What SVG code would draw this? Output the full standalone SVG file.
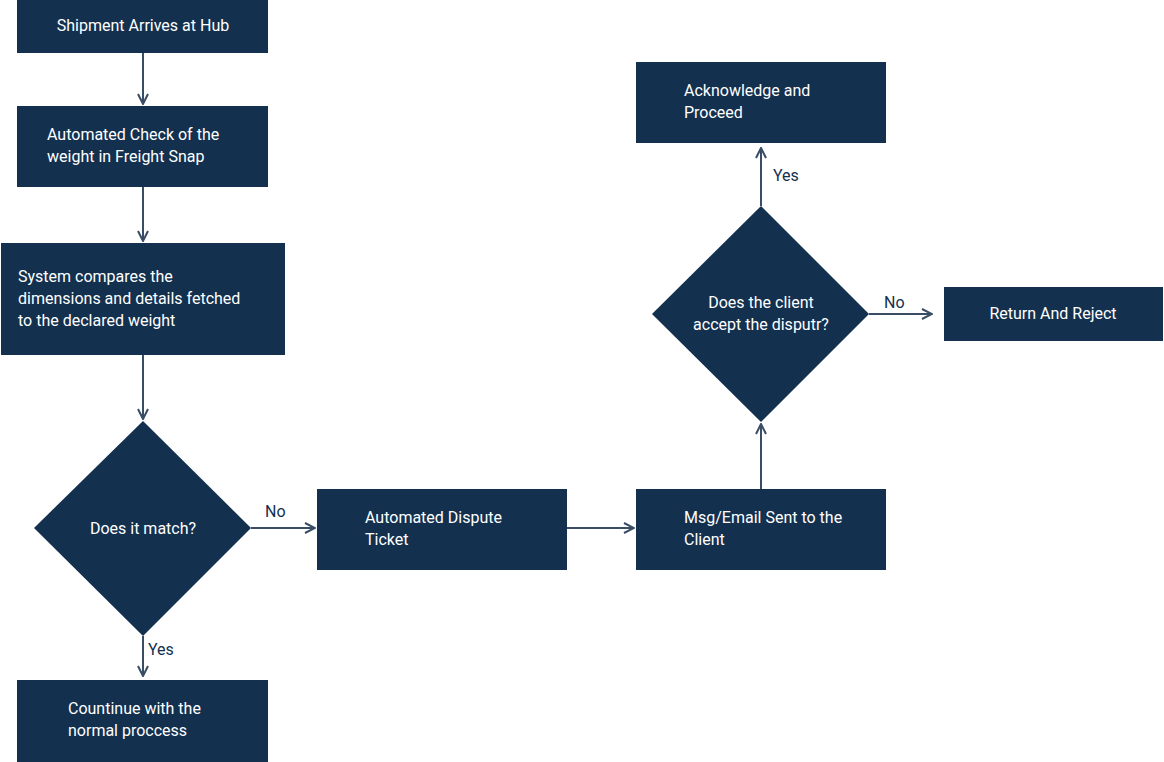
<svg xmlns="http://www.w3.org/2000/svg" width="1164" height="762" viewBox="0 0 1164 762">
<style>
.n{fill:#13304f}
.t{fill:#fff;font-family:Roboto,"Liberation Sans",sans-serif;font-size:16px}
.c{fill:none;stroke:#3a4d66;stroke-width:2}
.l{fill:#13304f;font-family:Roboto,"Liberation Sans",sans-serif;font-size:16px}
</style>
<defs><marker id="a" viewBox="0 0 12 12" refX="11" refY="6" markerWidth="12" markerHeight="12" markerUnits="userSpaceOnUse" orient="auto"><path d="M1,1 L11,6 L1,11" fill="none" stroke="#3a4d66" stroke-width="2"/></marker></defs>
<rect width="1164" height="762" fill="#fff"/>
<g id="connectors">
<path class="c" marker-end="url(#a)" d="M143,53V104"/>
<path class="c" marker-end="url(#a)" d="M143,187V241"/>
<path class="c" marker-end="url(#a)" d="M143,355V419"/>
<path class="c" marker-end="url(#a)" d="M143,636V676"/>
<path class="c" marker-end="url(#a)" d="M251,528H315"/>
<path class="c" marker-end="url(#a)" d="M567,528H634"/>
<path class="c" marker-end="url(#a)" d="M761,489V424"/>
<path class="c" marker-end="url(#a)" d="M761,206V148"/>
<path class="c" marker-end="url(#a)" d="M869,314H932"/>
<text class="l" x="148" y="655">Yes</text>
<text class="l" x="265" y="517">No</text>
<text class="l" x="773" y="181">Yes</text>
<text class="l" x="884" y="308">No</text>
</g>
<g id="n1"><rect class="n" x="17" y="0" width="251" height="53"/><text class="t" x="143" y="31" text-anchor="middle">Shipment Arrives at Hub</text></g>
<g id="n2"><rect class="n" x="17" y="106" width="251" height="81"/><text class="t" x="47" y="140">Automated Check of the</text><text class="t" x="47" y="162">weight in Freight Snap</text></g>
<g id="n3"><rect class="n" x="1" y="243" width="284" height="112"/><text class="t" x="18" y="282">System compares the</text><text class="t" x="18" y="304">dimensions and details fetched</text><text class="t" x="18" y="326">to the declared weight</text></g>
<g id="d1"><polygon class="n" points="143,421 251,528 143,636 34,528"/><text class="t" x="143" y="534" text-anchor="middle">Does it match?</text></g>
<g id="n4"><rect class="n" x="17" y="680" width="251" height="82"/><text class="t" x="68" y="714">Countinue with the</text><text class="t" x="68" y="736">normal proccess</text></g>
<g id="n5"><rect class="n" x="317" y="489" width="250" height="81"/><text class="t" x="365" y="523">Automated Dispute</text><text class="t" x="365" y="545">Ticket</text></g>
<g id="n6"><rect class="n" x="636" y="489" width="250" height="81"/><text class="t" x="684" y="523">Msg/Email Sent to the</text><text class="t" x="684" y="545">Client</text></g>
<g id="d2"><polygon class="n" points="761,206 869,314 761,422 652,314"/><text class="t" x="761" y="308" text-anchor="middle">Does the client</text><text class="t" x="761" y="330" text-anchor="middle">accept the disputr?</text></g>
<g id="n7"><rect class="n" x="636" y="62" width="250" height="81"/><text class="t" x="684" y="96">Acknowledge and</text><text class="t" x="684" y="118">Proceed</text></g>
<g id="n8"><rect class="n" x="944" y="287" width="219" height="54"/><text class="t" x="1053" y="319" text-anchor="middle">Return And Reject</text></g>
</svg>
